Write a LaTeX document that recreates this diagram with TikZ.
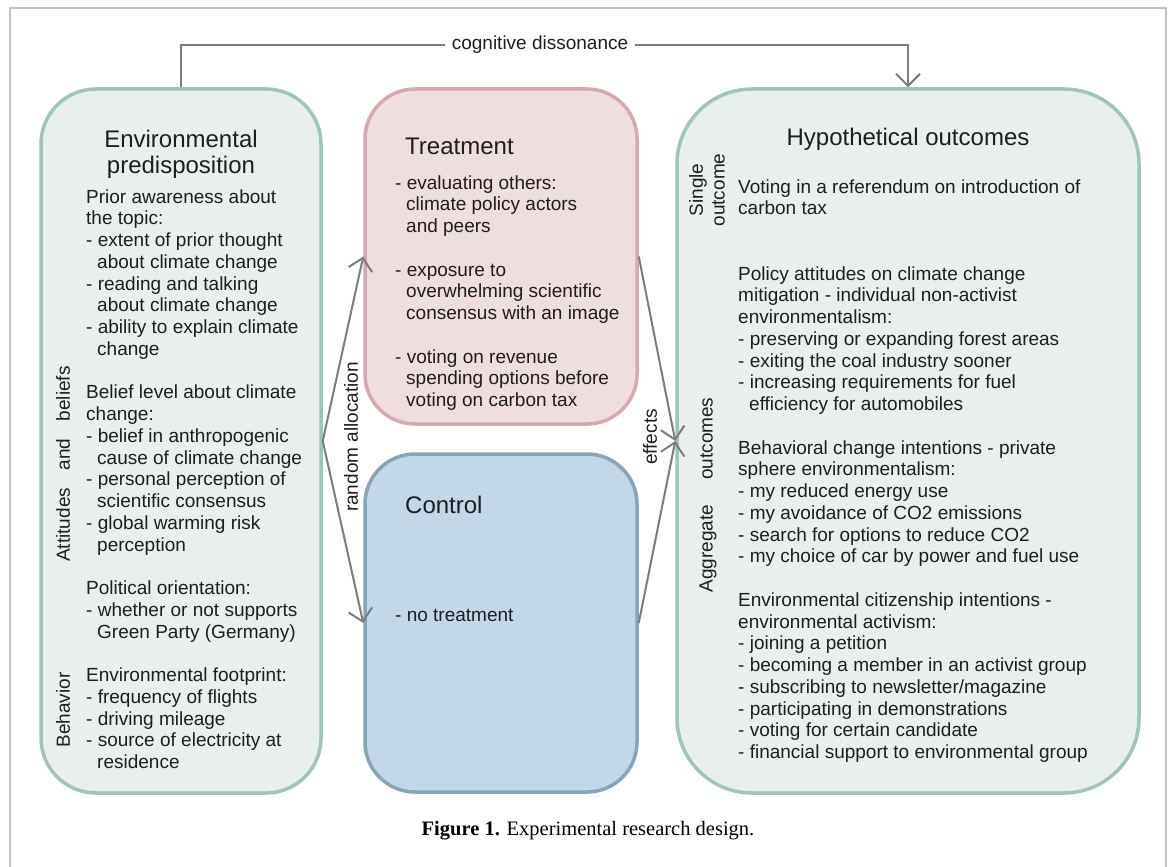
\documentclass[tikz,border=0pt]{standalone}
\usepackage{fontspec}
\setmainfont{Liberation Sans}
\newfontfamily\capfont{Liberation Serif}
\usetikzlibrary{arrows.meta}
\definecolor{envfill}{HTML}{E9EFEC}
\definecolor{envdraw}{HTML}{9FC5BA}
\definecolor{trfill}{HTML}{EEDEE0}
\definecolor{trdraw}{HTML}{D5A9AD}
\definecolor{ctfill}{HTML}{C2D7E8}
\definecolor{ctdraw}{HTML}{87A5B4}
\definecolor{arrc}{HTML}{7D7D7D}
\definecolor{framec}{HTML}{C4C4C4}
\definecolor{txt}{HTML}{1E1E1E}
\newcommand{\ind}{\hspace*{11pt}}
\begin{document}
\begin{tikzpicture}[x=1pt,y=-1pt,
  box/.style={draw, line width=3.5pt, inner sep=0pt},
  body/.style={anchor=base west, inner sep=0pt, align=left, text=txt, font=\fontsize{19}{21.75}\selectfont},
  ttl/.style={inner sep=0pt, align=center, text=txt, font=\fontsize{24}{26}\selectfont},
  side/.style={rotate=90, inner sep=0pt, align=center, text=txt, font=\fontsize{19}{21.75}\selectfont},
  arr/.style={draw=arrc, line width=2pt, -{Straight Barb[length=12pt,width=24pt]}}]
\fill[white] (0,0) rectangle (1173,867);
\useasboundingbox (0,0) rectangle (1173,867);
\draw[framec, line width=1.3pt] (10,867) -- (10,8) -- (1166,8) -- (1166,867);

% boxes
\node[box, draw=envdraw, fill=envfill, rounded corners=55pt, minimum width=280pt, minimum height=704pt] (env) at (181,441) {};
\node[box, draw=trdraw, fill=trfill, rounded corners=50pt, minimum width=272pt, minimum height=335pt] (treat) at (501,256.5) {};
\node[box, draw=ctdraw, fill=ctfill, rounded corners=50pt, minimum width=272pt, minimum height=338pt] (ctrl) at (501,623) {};
\node[box, draw=envdraw, fill=envfill, rounded corners=75pt, minimum width=462pt, minimum height=704pt] (out) at (908,441) {};

% connectors
\coordinate (cdtop) at (0,45);
\draw[arr] (env.north) |- (cdtop -| out.north) -- (out.north);
\node[fill=white, inner xsep=7pt, inner ysep=3pt, text=txt, font=\fontsize{19}{21.75}\selectfont] (lcd) at (540,45) {cognitive dissonance};
\draw[arr] (env.east) -- (treat.west);
\draw[arr] (env.east) -- (ctrl.west);
\draw[arr] (treat.east) -- (out.west);
\draw[arr] (ctrl.east) -- (out.west);
\node[side] (lra) at (351,437) {random allocation};
\node[side] (leff) at (650,437) {effects};

% left box (multi-line nodes: base = last line)
\node[ttl, anchor=base] (envt) at (181,173) {Environmental\\predisposition};
\node[body] (envp1) at (86,355.25) {Prior awareness about\\the topic:\\- extent of prior thought\\\ind about climate change\\- reading and talking\\\ind about climate change\\- ability to explain climate\\\ind change};
\node[body] (envp2) at (86,551) {Belief level about climate\\change:\\- belief in anthropogenic\\\ind cause of climate change\\- personal perception of\\\ind scientific consensus\\- global warming risk\\\ind perception};
\node[body] (envp3) at (86,638) {Political orientation:\\- whether or not supports\\\ind Green Party (Germany)};
\node[body] (envp4) at (86,768.5) {Environmental footprint:\\- frequency of flights\\- driving mileage\\- source of electricity at\\\ind residence};
\node[side] (sab) at (63,464) {Attitudes\hspace{17.5pt}and\hspace{17.5pt}beliefs};
\node[side] (sbeh) at (63,710) {Behavior};

% treatment
\node[ttl, anchor=base west] (trt) at (405,154) {Treatment};
\node[body] (trp1) at (395,232.5) {- evaluating others:\\\ind climate policy actors\\\ind and peers};
\node[body] (trp2) at (395,319.5) {- exposure to\\\ind overwhelming scientific\\\ind consensus with an image};
\node[body] (trp3) at (395,406.5) {- voting on revenue\\\ind spending options before\\\ind voting on carbon tax};

% control
\node[ttl, anchor=base west] (ctt) at (405,513) {Control};
\node[body] (ctp) at (395,621) {- no treatment};

% outcomes
\node[ttl, anchor=base] (outt) at (908,145) {Hypothetical outcomes};
\node[body] (o1) at (738,214.75) {Voting in a referendum on introduction of\\carbon tax};
\node[body] (o2) at (738,410.5) {Policy attitudes on climate change\\mitigation - individual non-activist\\environmentalism:\\- preserving or expanding forest areas\\- exiting the coal industry sooner\\- increasing requirements for fuel\\\ind efficiency for automobiles};
\node[body] (o3) at (738,562.75) {Behavioral change intentions - private\\sphere environmentalism:\\- my reduced energy use\\- my avoidance of CO2 emissions\\- search for options to reduce CO2\\- my choice of car by power and fuel use};
\node[body] (o4) at (738,758.5) {Environmental citizenship intentions -\\environmental activism:\\- joining a petition\\- becoming a member in an activist group\\- subscribing to newsletter/magazine\\- participating in demonstrations\\- voting for certain candidate\\- financial support to environmental group};
\node[side] (ssingle) at (707,190) {Single\\outcome};
\node[side] (sagg) at (708,495) {Aggregate\hspace{25pt}outcomes};

% caption
\node[anchor=base, inner sep=0pt, text=black, font=\capfont\fontsize{20.5}{24}\selectfont] (cap) at (588,835) {\textbf{Figure 1.} Experimental research design.};
\end{tikzpicture}
\end{document}
